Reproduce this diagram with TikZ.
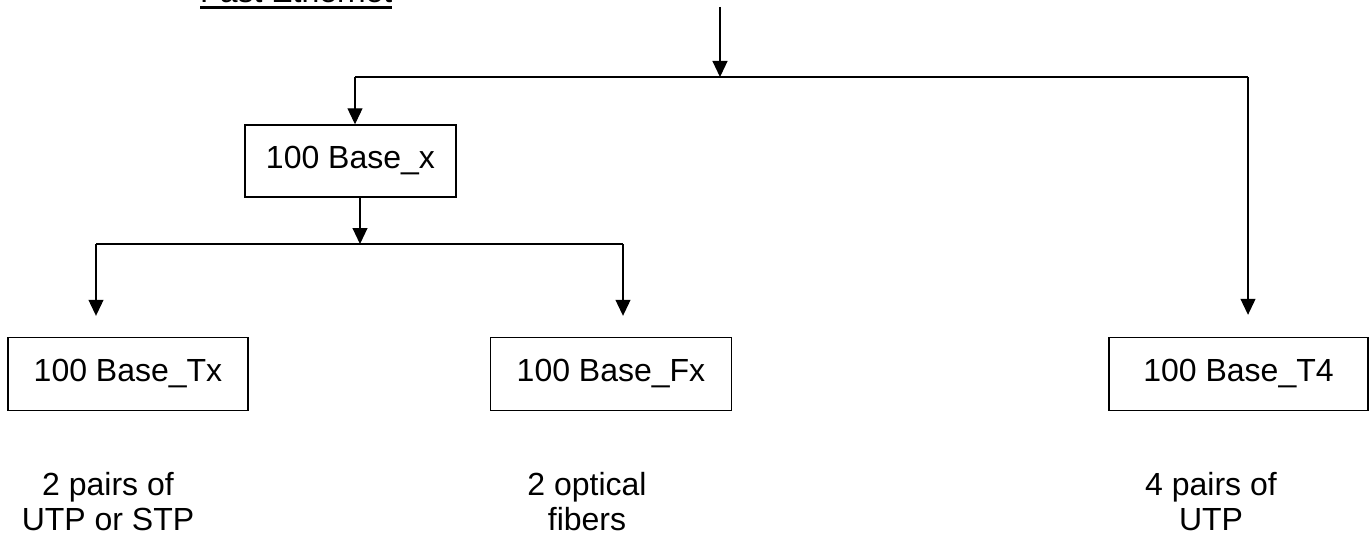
\documentclass[tikz,border=0pt]{standalone}
\usepackage{fontspec}
\setmainfont{Liberation Sans}
\usetikzlibrary{arrows.meta}
\begin{document}
\begin{tikzpicture}[x=1pt,y=-1pt,
  every node/.style={font=\fontsize{32}{35}\selectfont},
  boxnode/.style={draw,line width=1.4pt,minimum height=73pt,inner sep=0pt},
  conn/.style={line width=1.1pt},
  arr/.style={conn,-{Triangle[width=15pt,length=16pt]}},
  lbl/.style={align=center,inner sep=0pt}]
\useasboundingbox (0,0) rectangle (1370,535);
% title
\node[anchor=base west,inner sep=0pt] (title) at (200,3) {Fast Ethernet};
\draw[line width=2.6pt] ([yshift=-4.3pt]title.base west) -- ([yshift=-4.3pt]title.base east);
% boxes
\node[boxnode,minimum width=211pt,minimum height=72pt] (bx) at (350.5,161) {100 Base\_x};
\node[boxnode,minimum width=240pt] (tx) at (128,374) {100 Base\_Tx};
\node[boxnode,minimum width=241pt] (fx) at (611,374) {100 Base\_Fx};
\node[boxnode,minimum width=259pt] (t4) at (1238.5,374) {100 Base\_T4};
% labels
\node[lbl,anchor=base] (ltx) at (108,530) {2 pairs of\\UTP or STP};
\node[lbl,anchor=base] (lfx) at (587,530) {2 optical\\fibers};
\node[lbl,anchor=base] (lt4) at (1211,530) {4 pairs of\\UTP};
% junctions
\coordinate (topin) at (720,7);
\coordinate (j1) at (720,77);
\coordinate (jL) at (355,77);
\coordinate (jR) at (1248,77);
\coordinate (j2) at (360,244);
\coordinate (j2L) at (96,244);
\coordinate (j2R) at (623,244);
% connectors
\draw[arr] (topin) -- (j1);
\draw[conn] (jL) -- (jR);
\draw[arr] (jL) -- (jL |- bx.north);
\draw[arr,shorten >=22pt] (jR) -- (jR |- t4.north);
\draw[arr] (j2 |- bx.south) -- (j2);
\draw[conn] (j2L) -- (j2R);
\draw[arr,shorten >=21pt] (j2L) -- (j2L |- tx.north);
\draw[arr,shorten >=21pt] (j2R) -- (j2R |- fx.north);
\end{tikzpicture}
\end{document}
